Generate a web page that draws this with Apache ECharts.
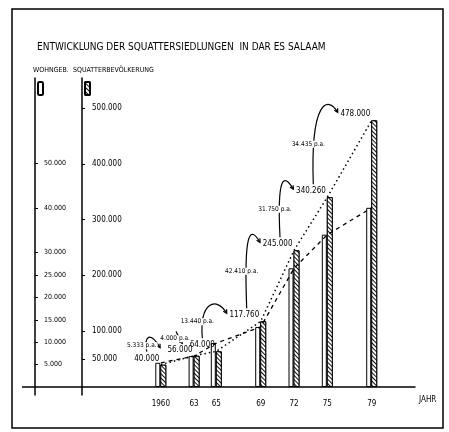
<!DOCTYPE html>
<html>
<head>
<meta charset="utf-8">
<script src="https://cdn.jsdelivr.net/npm/echarts@6/dist/echarts.min.js"></script>
<style>
html, body { margin: 0; padding: 0; background: #fff; }
#chart { width: 449px; height: 432px; }
</style>
</head>
<body>
<div id="chart"></div>
<script>
// Entwicklung der Squattersiedlungen in Dar es Salaam
const years = [1960, 1963, 1965, 1969, 1972, 1975, 1979];
const yearLabels = ['1960', '63', '65', '69', '72', '75', '79'];
const population = [40000, 56000, 64000, 117760, 245000, 340260, 478000];
const populationLabels = ['40.000', '56.000', '64.000', '117.760', '245.000', '340.260', '478.000'];
const housing = [5400, 6900, 9800, 13400, 26500, 34000, 40000];
const growthLabels = ['5.333 p.a.', '4.000 p.a.', '13.440 p.a.', '42.410 p.a.', '31.750 p.a.', '34.435 p.a.'];
const housingTicks = [5000, 10000, 15000, 20000, 25000, 30000, 40000, 50000];
const populationTicks = [50000, 100000, 200000, 300000, 400000, 500000];

const FONT = "'Liberation Sans Narrow', 'DejaVu Sans Condensed', 'Liberation Sans', sans-serif";
const fmt = v => v.toLocaleString('de-DE');

const growthData = growthLabels.map((t, i) => [years[i], population[i], years[i + 1], population[i + 1], t]);

const hatch = {
    symbol: 'rect',
    symbolSize: 1,
    dashArrayX: [1, 0],
    dashArrayY: [1, 2],
    rotation: Math.PI / 4,
    color: '#111',
    backgroundColor: '#fff'
};

let chart = echarts.init(document.getElementById('chart'));

chart.setOption({
    animation: false,
    backgroundColor: '#fff',
    textStyle: { fontFamily: FONT, color: '#000' },
    title: {
        text: 'ENTWICKLUNG DER SQUATTERSIEDLUNGEN  IN DAR ES SALAAM',
        left: 32,
        top: 37,
        textStyle: { fontFamily: FONT, fontSize: 10, fontWeight: 'normal', color: '#000' }
    },
    legend: [
        {
            data: ['Wohngeb.'],
            left: 37, top: 81,
            padding: 0,
            itemWidth: 5, itemHeight: 13,
            formatter: () => '',
            selectedMode: false
        },
        {
            data: ['Squatterbevölkerung'],
            left: 84, top: 81,
            padding: 0,
            itemWidth: 5, itemHeight: 13,
            formatter: () => '',
            selectedMode: false
        }
    ],
    grid: { left: 82, right: 34, top: 78, bottom: 37 },
    xAxis: {
        type: 'value',
        min: 1952.9,
        max: 1982.9,
        name: 'JAHR',
        nameLocation: 'end',
        nameGap: 4,
        nameTextStyle: { fontFamily: FONT, fontSize: 8, verticalAlign: 'top', padding: [9, 0, 0, 0] },
        axisLine: { onZero: true, onZeroAxisIndex: 0, lineStyle: { color: '#000', width: 1.5 } },
        axisTick: { show: false },
        splitLine: { show: false },
        axisLabel: {
            customValues: years,
            fontSize: 8,
            margin: 5,
            color: '#000',
            formatter: v => yearLabels[years.indexOf(v)]
        }
    },
    yAxis: [
        {
            type: 'value',
            min: -14300,
            max: 553800,
            position: 'left',
            name: 'SQUATTERBEVÖLKERUNG',
            nameLocation: 'end',
            nameGap: 4,
            nameTextStyle: { fontFamily: FONT, fontSize: 7, align: 'left', padding: [0, 0, 0, -9] },
            axisLine: { show: true, lineStyle: { color: '#000', width: 1.5 } },
            axisTick: { show: true, inside: true, length: 3, customValues: populationTicks, lineStyle: { color: '#000' } },
            splitLine: { show: false },
            axisLabel: {
                inside: true,
                customValues: populationTicks,
                margin: 10,
                fontSize: 8,
                color: '#000',
                formatter: fmt
            }
        },
        {
            type: 'value',
            min: -1786,
            max: 68973,
            position: 'left',
            offset: 47,
            name: 'WOHNGEB.',
            nameLocation: 'end',
            nameGap: 4,
            nameTextStyle: { fontFamily: FONT, fontSize: 7, align: 'left', padding: [0, 0, 0, -2] },
            axisLine: { show: true, lineStyle: { color: '#000', width: 1.5 } },
            axisTick: { show: true, inside: true, length: 3, customValues: housingTicks, lineStyle: { color: '#000' } },
            splitLine: { show: false },
            axisLabel: {
                inside: true,
                customValues: housingTicks,
                margin: 9,
                fontSize: 7,
                color: '#000',
                formatter: fmt
            }
        }
    ],
    series: [
        {
            name: 'Wohngeb.',
            type: 'bar',
            yAxisIndex: 1,
            barWidth: 5,
            barGap: '0%',
            data: years.map((y, i) => [y, housing[i]]),
            itemStyle: { color: '#fff', borderColor: '#000', borderWidth: 1 }
        },
        {
            name: 'Squatterbevölkerung',
            type: 'bar',
            yAxisIndex: 0,
            barWidth: 6,
            barGap: '0%',
            data: years.map((y, i) => [y, population[i]]),
            itemStyle: { color: '#fff', borderColor: '#000', borderWidth: 1, decal: hatch },
            label: {
                show: true,
                position: [0, 0],
                align: 'right',
                verticalAlign: 'bottom',
                offset: [-1, -2],
                fontSize: 8,
                color: '#000',
                formatter: p => populationLabels[p.dataIndex]
            }
        },
        {
            name: 'housing line',
            type: 'line',
            yAxisIndex: 1,
            symbol: 'none',
            data: years.map((y, i) => [y, housing[i]]),
            lineStyle: { color: '#000', width: 1.3, type: [4, 4] },
            z: 3
        },
        {
            name: 'population line',
            type: 'line',
            yAxisIndex: 0,
            symbol: 'none',
            data: years.map((y, i) => [y, population[i]]),
            lineStyle: { color: '#000', width: 1.5, type: [1.5, 3] },
            z: 3
        },
        {
            name: 'growth',
            type: 'custom',
            yAxisIndex: 0,
            data: growthData,
            z: 5,
            renderItem: function (params, api) {
                const a = api.coord([api.value(0), api.value(1)]);
                const b = api.coord([api.value(2), api.value(3)]);
                const s = [a[0] - 14, a[1] - 13];
                const e = [b[0] - 34, b[1] - 8];
                const apex = Math.min(s[1], e[1]) - 12;
                const c1 = [s[0] - 3, apex];
                const c2 = [e[0] - 10, apex - 5];
                const ang = Math.atan2(e[1] - c2[1], e[0] - c2[0]);
                const h = 4;
                const p1 = [e[0] - h * Math.cos(ang - 0.5), e[1] - h * Math.sin(ang - 0.5)];
                const p2 = [e[0] - h * Math.cos(ang + 0.5), e[1] - h * Math.sin(ang + 0.5)];
                return {
                    type: 'group',
                    children: [
                        {
                            type: 'bezierCurve',
                            shape: { x1: s[0], y1: s[1], x2: e[0], y2: e[1], cpx1: c1[0], cpy1: c1[1], cpx2: c2[0], cpy2: c2[1] },
                            style: { stroke: '#000', lineWidth: 1.2, fill: null }
                        },
                        {
                            type: 'polyline',
                            shape: { points: [p1, e, p2] },
                            style: { stroke: '#000', lineWidth: 1.2, fill: null }
                        },
                        {
                            type: 'text',
                            style: {
                                x: s[0] - 5,
                                y: (s[1] + apex) / 2 + 2,
                                text: api.value(4),
                                align: 'center',
                                verticalAlign: 'middle',
                                font: '6.5px ' + FONT,
                                fill: '#000',
                                backgroundColor: '#fff',
                                padding: [0, 1]
                            }
                        }
                    ]
                };
            }
        }
    ]
});

// frame and the short stub of the baseline left of the population axis
const baseY = chart.convertToPixel({ yAxisIndex: 0 }, 0);
chart.setOption({
    graphic: [
        { type: 'rect', shape: { x: 12, y: 9, width: 431, height: 419 }, style: { fill: null, stroke: '#000', lineWidth: 1.5 } },
        { type: 'line', shape: { x1: 22, y1: baseY, x2: 82, y2: baseY }, style: { stroke: '#000', lineWidth: 1.5 } }
    ]
});
</script>
</body>
</html>
